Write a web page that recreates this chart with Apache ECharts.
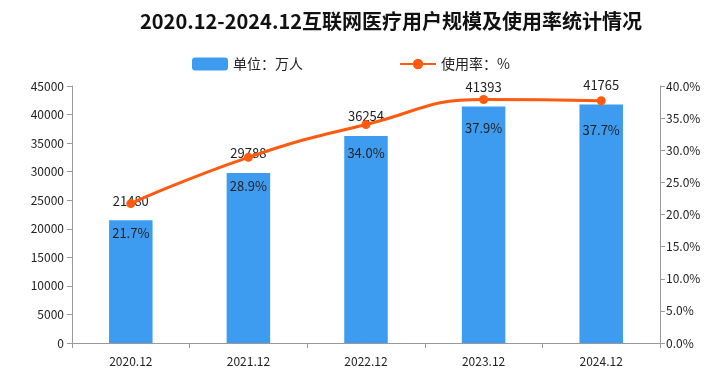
<!DOCTYPE html>
<html><head><meta charset="utf-8">
<script src="https://cdn.jsdelivr.net/npm/echarts@6/dist/echarts.min.js"></script>
<style>html,body{margin:0;padding:0;background:#fff}#c{width:726px;height:382px}</style>
</head><body><div id="c"></div>
<script>
const categories = ['2020.12','2021.12','2022.12','2023.12','2024.12'];
const users = [21480, 29788, 36254, 41393, 41765];
const rate = [21.7, 28.9, 34.0, 37.9, 37.7];
const titleText = '2020.12-2024.12互联网医疗用户规模及使用率统计情况';
const barName = '单位：万人';
const lineName = '使用率：%';

const chart = echarts.init(document.getElementById('c'));
const font = '"Noto Sans CJK SC", "DejaVu Sans", sans-serif';
chart.setOption({
  animation: false,
  textStyle: { fontFamily: font },
  title: { text: titleText, left: 386, top: 6, textAlign: 'center',
    textStyle: { fontSize: 20, fontWeight: 'bold', color: '#111', fontFamily: font } },
  legend: { top: 52, left: 187, itemGap: 96, itemWidth: 36, itemHeight: 13,
    textStyle: { fontSize: 14, color: '#222' },
    data: [{ name: barName }, { name: lineName }] },
  grid: { left: 72, right: 66, top: 86, bottom: 39 },
  xAxis: { type: 'category', data: categories,
    axisLine: { lineStyle: { color: '#999' } },
    axisTick: { show: true, alignWithLabel: false, lineStyle: { color: '#999' } },
    axisLabel: { color: '#222', fontSize: 12, margin: 12 } },
  yAxis: [
    { type: 'value', min: 0, max: 45000, interval: 5000,
      axisLine: { show: true, lineStyle: { color: '#999' } },
      axisTick: { show: true, lineStyle: { color: '#999' } },
      splitLine: { show: false },
      axisLabel: { color: '#222', fontSize: 12, formatter: v => String(v) } },
    { type: 'value', min: 0, max: 40, interval: 5,
      axisLine: { show: true, lineStyle: { color: '#999' } },
      axisTick: { show: true, lineStyle: { color: '#999' } },
      splitLine: { show: false },
      axisLabel: { color: '#222', fontSize: 12, margin: 6, formatter: v => v.toFixed(1) + '%' } }
  ],
  series: [
    { name: barName, type: 'bar', data: users, barWidth: '37%', yAxisIndex: 0,
      itemStyle: { color: '#3d9cf0' },
      label: { show: true, position: 'top', distance: 13, color: '#222', fontSize: 13 } },
    { name: lineName, type: 'line', data: rate, yAxisIndex: 1, smooth: true,
      symbol: 'circle', symbolSize: 9,
      itemStyle: { color: '#ff5a10' }, lineStyle: { color: '#ff5a10', width: 3 },
      label: { show: true, position: 'bottom', distance: 18, color: '#222', fontSize: 13,
        formatter: p => p.value.toFixed(1) + '%' } }
  ]
});
</script></body></html>
